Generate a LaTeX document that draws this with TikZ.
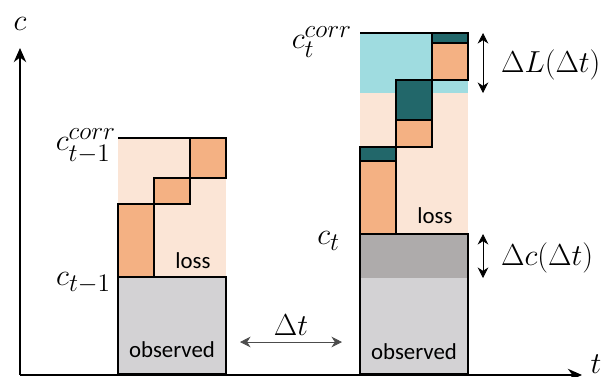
\documentclass[tikz,border=0pt]{standalone}
\usepackage{amsmath,amssymb}
\usepackage{xcolor}
\usepackage{fontspec}
\setmainfont{Carlito}
\usepackage{tikz}
\usetikzlibrary{calc, positioning, arrows.meta}

\definecolor{peachlight}{HTML}{FBE5D6}
\definecolor{peach}{HTML}{F4B183}
\definecolor{tealdark}{HTML}{22676A}
\definecolor{cyanlight}{HTML}{9FDCE0}
\definecolor{graylight}{HTML}{D3D2D4}
\definecolor{graydark}{HTML}{AEABAB}

\tikzset{
  blk/.style={draw=black, line width=1.7pt},
  mathlbl/.style={inner sep=1pt, font=\fontsize{16}{18}\selectfont},
  levlbl/.style={inner sep=1pt, font=\fontsize{19}{21}\selectfont},
  txtlbl/.style={inner sep=1pt, font=\fontsize{13}{15}\selectfont},
  dblarrow/.style={thin, {Stealth[length=6pt,width=6pt]}-{Stealth[length=6pt,width=6pt]}}
}

\begin{document}
\begin{tikzpicture}[x=0.02cm, y=-0.02cm]
  \useasboundingbox (0,0) rectangle (606,376);

  % left bar (t-1)
  \fill[peachlight] (118,138) rectangle (226,277);
  \draw[blk, fill=peach] (118,204) rectangle (154,277);
  \draw[blk, fill=peach] (154,178) rectangle (190,204);
  \draw[blk, fill=peach] (190,138) rectangle (226,178);
  \draw[blk] (118,138) -- (190,138);
  \draw[blk, fill=graylight] (118,277) rectangle (226,374);
  \node[txtlbl] (lossA) at (193,261) {loss};
  \node[txtlbl] (obsA) at (172,350) {observed};

  % right bar (t)
  \fill[cyanlight] (360,33) rectangle (468,93);
  \fill[peachlight] (360,93) rectangle (468,234);
  \fill[tealdark] (432,33) rectangle (468,43);
  \fill[peach] (432,43) rectangle (468,80);
  \fill[tealdark] (396,80) rectangle (432,120);
  \fill[peach] (396,120) rectangle (432,147);
  \fill[tealdark] (360,147) rectangle (396,161);
  \fill[peach] (360,161) rectangle (396,234);
  \draw[blk] (432,33) rectangle (468,80) (432,43) -- (468,43);
  \draw[blk] (396,80) rectangle (432,147) (396,120) -- (432,120);
  \draw[blk] (360,147) rectangle (396,234) (360,161) -- (396,161);
  \draw[blk] (360,33) -- (432,33);
  \fill[graydark] (360,234) rectangle (468,278);
  \fill[graylight] (360,278) rectangle (468,374);
  \draw[blk] (360,234) rectangle (468,374);
  \node[txtlbl] (lossB) at (435,216) {loss};
  \node[txtlbl] (obsB) at (414,352) {observed};

  % axes
  \coordinate (origin) at (20,375);
  \coordinate (ytip) at (20,48);
  \coordinate (xtip) at (582,375);
  \draw[line width=1.7pt, -{Stealth[length=8pt,width=7pt]}] (origin) -- (ytip);
  \draw[line width=1.7pt, -{Stealth[length=8pt,width=7pt]}] (origin) -- (xtip);
  \node[levlbl] (cax) at (20,24) {$c$};
  \node[levlbl] (tax) at (596,364) {$t$};

  % level labels
  \node[levlbl, anchor=east] (cprevcorr) at (118,146) {$c_{t-1}^{corr}$};
  \node[levlbl, anchor=east] (cprev) at (113,283) {$c_{t-1}$};
  \node[levlbl, anchor=east] (cnowcorr) at (354,42) {$c_{t}^{corr}$};
  \node[levlbl, anchor=east] (cnow) at (342,241) {$c_{t}$};

  % differences
  \coordinate (dLtop) at (483,33);
  \coordinate (dLbot) at (483,93);
  \coordinate (dctop) at (483,234);
  \coordinate (dcbot) at (483,278);
  \coordinate (dtl) at (240,342);
  \coordinate (dtr) at (342,342);
  \draw[dblarrow] (dLtop) -- (dLbot);
  \draw[dblarrow] (dctop) -- (dcbot);
  \draw[dblarrow, black!70] (dtl) -- (dtr);
  \node[mathlbl, anchor=west] (deltaL) at (499,65) {$\Delta L(\Delta t)$};
  \node[mathlbl, anchor=west] (deltac) at (499,258) {$\Delta c(\Delta t)$};
  \node[mathlbl] (deltat) at (291,325) {$\Delta t$};
\end{tikzpicture}
\end{document}
